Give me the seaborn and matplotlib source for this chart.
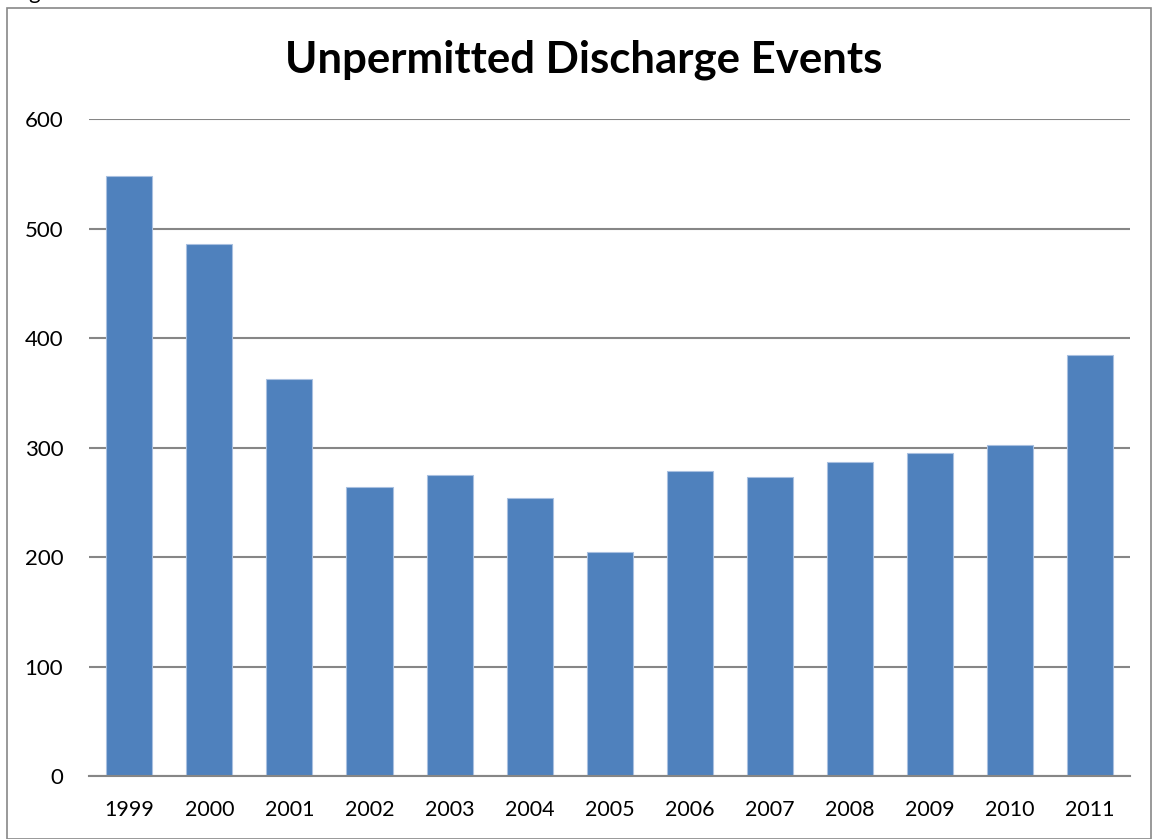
import matplotlib
matplotlib.use("Agg")
import matplotlib.pyplot as plt
import seaborn as sns
import pandas as pd
from matplotlib.patches import Rectangle

years = ["1999", "2000", "2001", "2002", "2003", "2004", "2005",
         "2006", "2007", "2008", "2009", "2010", "2011"]
events = [548, 486, 363, 264, 275, 254, 205, 279, 273, 287, 295, 302, 385]
yticks = [0, 100, 200, 300, 400, 500, 600]
title = "Unpermitted Discharge Events"

sns.set_theme(style="white")
plt.rcParams['font.family'] = ['Lato', 'DejaVu Sans']

W, H = 1154, 839
fig = plt.figure(figsize=(W / 100, H / 100), dpi=100)
ax = fig.add_axes([89.3 / W, 1 - 776 / H, (1130 - 89.3) / W, (776 - 119.3) / H])

df = pd.DataFrame({"year": years, "events": events})
sns.barplot(data=df, x="year", y="events", ax=ax, color="#4F81BD",
            saturation=1, width=0.575, edgecolor="#a9c0e0", linewidth=0.8,
            zorder=3)

ax.set_xlim(-0.5, len(years) - 0.5)
ax.set_ylim(0, 600)
ax.set_yticks(yticks)
ax.set_yticklabels([str(v) for v in yticks])
ax.set_xlabel("")
ax.set_ylabel("")
for s in ["top", "right", "left"]:
    ax.spines[s].set_visible(False)
ax.spines["bottom"].set_color("#868686")
ax.spines["bottom"].set_linewidth(1.5)
ax.spines["bottom"].set_zorder(4)
ax.yaxis.grid(True, color="#868686", linewidth=1.5, zorder=0)
ax.set_axisbelow(True)
ax.tick_params(axis="y", length=0, pad=18.7, labelsize=16, labelcolor="black")
ax.tick_params(axis="x", length=0, pad=17, labelsize=15.5, labelcolor="black")

fig.text(584 / W, 1 - 72 / H, title, ha="center", va="baseline",
         fontsize=31.5, fontweight="bold", color="black")

# chart frame
fig.patches.append(Rectangle((7 / W, 0.5 / H), (1151 - 7) / W, (H - 8 - 0.5) / H,
                             transform=fig.transFigure, fill=False,
                             edgecolor="#888888", linewidth=1.2))
# clipped caption text above frame (only the descender is visible, as in the reference)
fig.text(28 / W, 1 + 1 / H, "g", ha="left", va="baseline", fontsize=16, color="black")

fig.savefig("out.png", dpi=100, facecolor="white")
